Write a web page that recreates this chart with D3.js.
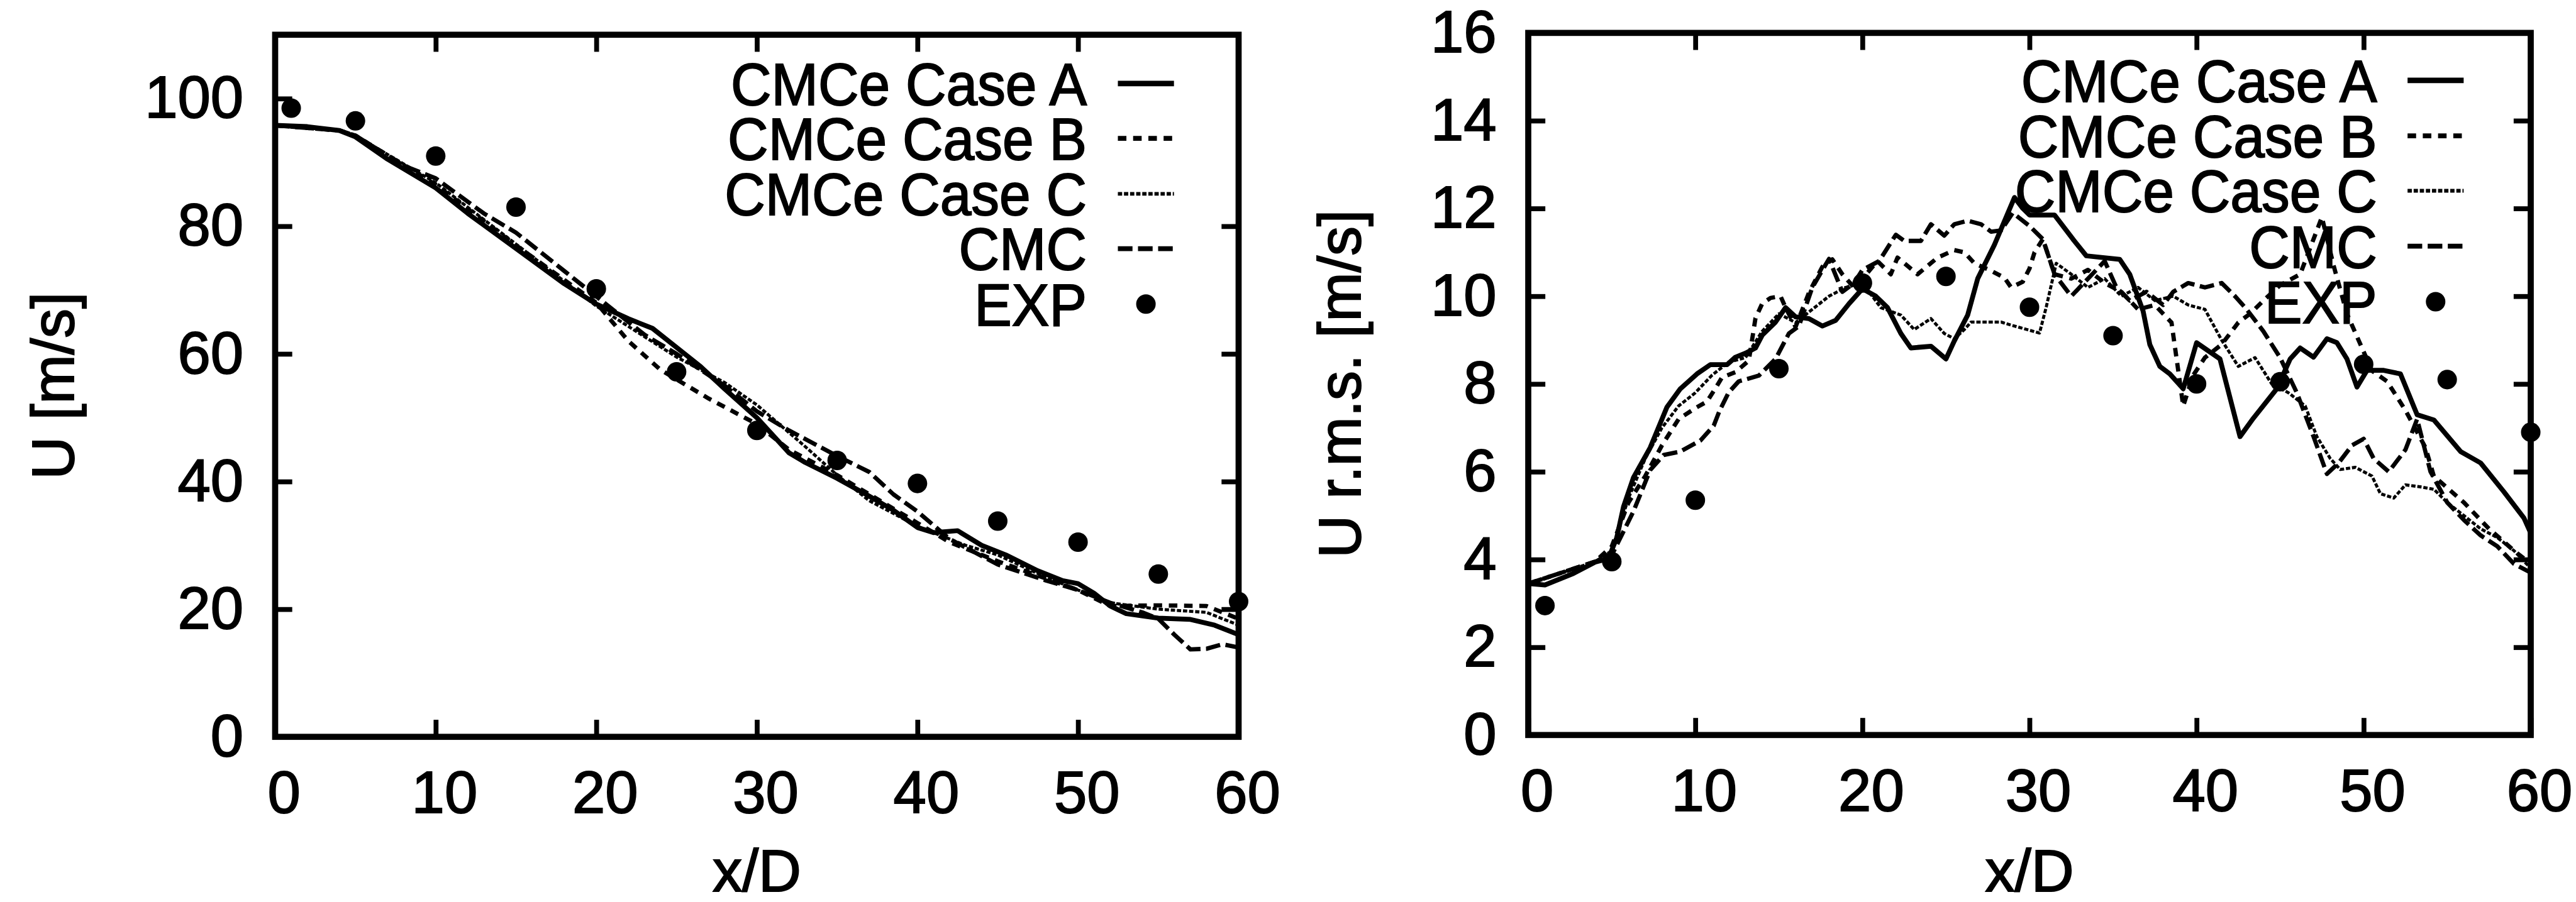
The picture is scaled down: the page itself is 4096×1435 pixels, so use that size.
<!DOCTYPE html>
<html>
<head>
<meta charset="utf-8">
<script src="https://cdn.jsdelivr.net/npm/d3@7"></script>
<style>
  html, body { margin: 0; padding: 0; background: #fff; }
  svg { display: block; }
  text { font-family: "Liberation Sans", Arial, Helvetica, sans-serif; fill: #000; stroke: #000; stroke-width: 2px; }
</style>
</head>
<body>
<svg id="chart" width="4096" height="1435" viewBox="0 0 4224 1480"></svg>
<script>
// ---- shared axes ----
const xTicks = [0, 10, 20, 30, 40, 50, 60];
const uTicks = [0, 20, 40, 60, 80, 100];
const rmsTicks = [0, 2, 4, 6, 8, 10, 12, 14, 16];
const legendNames = ["CMCe Case A", "CMCe Case B", "CMCe Case C", "CMC", "EXP"];

// ---- mean velocity U [m/s] ----
const expX = [1, 5, 10, 15, 20, 25, 30, 35, 40, 45, 50, 55, 60];
const uExp = [98.5, 96.5, 91, 83, 70.2, 57.2, 48, 43.3, 39.7, 33.8, 30.5, 25.5, 21.2];

const uAx = [0, 2, 4, 5, 7, 10, 12, 15, 18, 20, 22, 23.5, 25, 26.5, 28, 30, 32, 33, 35, 37, 38.5, 40, 41, 42.5, 44, 45.5, 47.5, 49, 50, 51, 52, 53, 55, 57, 58.5, 59.5, 60];
const uA  = [95.8, 95.6, 95, 94, 90.5, 86, 82, 76.5, 71, 67.8, 65.5, 64, 61, 58, 54.5, 50, 44.5, 43, 40.5, 37.7, 35.5, 32.8, 32, 32.3, 30, 28.5, 26, 24.5, 24, 22.5, 20.5, 19.3, 18.6, 18.4, 17.5, 16.5, 16];

const uBx = [0, 4, 5, 10, 15, 20, 22, 24, 25, 27, 30, 32, 35, 38, 40, 42, 45, 48, 50, 52, 55, 58, 60];
const uB  = [95.8, 95, 94.2, 86.5, 77, 68, 62, 57.5, 56, 53, 49, 45, 41, 36.5, 33.5, 30.5, 27.5, 24.8, 23, 20.5, 20.6, 20.5, 18.5];

const uCx = [0, 4, 5, 10, 15, 20, 25, 28, 30, 33, 35, 37, 40, 43, 45, 48, 50, 52, 55, 58, 60];
const uC  = [95.8, 95, 94.2, 86.8, 77.2, 67.5, 59.5, 55.5, 52, 45.5, 41, 37, 33, 30, 28.5, 25, 23, 21, 20, 19.5, 17.5];

const uCmcX = [0, 4, 5, 8, 10, 13, 15, 18, 20, 23, 25, 28, 30, 32, 35, 37, 38.5, 40, 42, 45, 48, 50, 52, 54, 55, 56, 57, 58, 59, 60];
const uCmc  = [95.8, 95, 94.2, 89.5, 87.5, 82, 79, 73, 69, 63, 60, 55, 51, 48, 44, 41.5, 38, 35.3, 31, 27, 24.5, 23, 21, 19.5, 18.5, 16, 13.7, 13.8, 14.5, 14];

// ---- fluctuation U r.m.s. [m/s] ----
const rmsExp = [2.95, 3.95, 5.35, 8.35, 10.3, 10.45, 9.75, 9.1, 8.0, 8.05, 8.45, 8.1, 6.9];

const rAx = [0, 1, 2.7, 4, 4.8, 5.3, 5.7, 6.3, 7.3, 8.3, 9.1, 10.1, 10.9, 11.9, 12.4, 13, 13.6, 14, 14.8, 15.4, 16, 16.8, 17.6, 18.4, 19.2, 20, 20.8, 21.5, 22.3, 22.9, 24.1, 25, 25.5, 26.3, 26.9, 27.9, 29.1, 29.6, 30, 31.5, 32.6, 33.4, 35.4, 36, 36.8, 37.2, 37.8, 38.4, 39.2, 40, 41.4, 42.6, 43.4, 44.8, 45.6, 46.2, 47, 47.8, 48.4, 49, 49.6, 50.2, 51.2, 52.2, 53.2, 54.2, 55.8, 57, 58.4, 59.6, 60];
const rA  = [3.45, 3.42, 3.68, 3.94, 4.02, 4.5, 5.2, 5.87, 6.55, 7.47, 7.89, 8.23, 8.44, 8.44, 8.61, 8.7, 8.82, 9.11, 9.41, 9.74, 9.53, 9.49, 9.32, 9.45, 9.83, 10.17, 10.0, 9.74, 9.15, 8.82, 8.86, 8.57, 8.98, 9.57, 10.4, 11.17, 12.25, 12.0, 11.85, 11.85, 11.3, 10.92, 10.84, 10.5, 9.66, 8.9, 8.4, 8.23, 7.89, 8.94, 8.57, 6.8, 7.22, 7.89, 8.57, 8.82, 8.61, 9.03, 8.94, 8.57, 7.93, 8.31, 8.31, 8.23, 7.3, 7.18, 6.46, 6.2, 5.54, 4.94, 4.6];

const rBx = [0, 4, 5, 6, 7, 8, 9, 10, 10.7, 11.2, 11.6, 12.4, 13.2, 13.6, 14, 14.5, 15.1, 15.4, 16, 16.8, 17.6, 18.2, 18.8, 19.5, 20, 20.9, 21.7, 22.1, 23.3, 24.5, 25.5, 26.1, 26.7, 27.7, 28.5, 28.9, 29.6, 30, 30.3, 30.8, 31.5, 32.5, 33.5, 34.5, 35.5, 36.5, 37.5, 38.5, 39.2, 39.8, 40.5, 41.5, 42.5, 43.2, 44, 45, 46.2, 47.5, 48.2, 49, 50.5, 51.4, 52.5, 53.7, 54.2, 56, 57.5, 59, 60];
const rB  = [3.45, 3.95, 4.3, 5.3, 5.9, 6.6, 7.2, 7.45, 7.6, 7.9, 8.15, 8.27, 8.53, 9.5, 9.83, 9.96, 10.0, 9.74, 9.3, 10.08, 10.67, 10.84, 10.5, 10.2, 10.4, 10.8, 10.5, 10.88, 10.5, 10.88, 11.05, 11.0, 10.75, 10.58, 10.42, 10.2, 10.33, 10.63, 11.0, 11.3, 10.5, 10.4, 10.6, 10.3, 10.1, 9.7, 9.8, 9.4, 7.5, 8.2, 8.6, 8.9, 9.4, 9.6, 9.9, 10.25, 10.5, 11.8, 10.7, 9.6, 8.3, 8.06, 7.4, 6.55, 5.9, 5.3, 4.7, 4.2, 3.9];

const rCx = [0, 4, 5, 6, 7, 8, 9, 10, 11, 12, 13, 14, 15, 16, 17, 18, 19, 20, 21.1, 22.3, 23.1, 24.1, 24.9, 25.5, 26.1, 26.5, 28.3, 29, 29.85, 30.6, 31, 31.6, 32.5, 33.5, 34.5, 35.5, 36.5, 37.5, 38.6, 39.5, 40.5, 41.5, 42.5, 43.5, 44.5, 45.5, 46.5, 47.2, 48, 48.6, 49.5, 50.5, 51, 51.8, 52.5, 53.5, 54.2, 55, 56, 57, 58, 59, 60];
const rC  = [3.45, 3.95, 4.2, 5.4, 6.3, 7.0, 7.5, 7.8, 8.2, 8.5, 8.6, 9.2, 9.6, 9.4, 9.7, 10.0, 10.2, 10.3, 9.74, 9.57, 9.24, 9.49, 9.15, 9.03, 9.24, 9.41, 9.41, 9.33, 9.24, 9.16, 9.75, 10.75, 10.5, 10.2, 10.4, 10.0, 10.2, 9.9, 10.0, 9.8, 9.7, 9.0, 8.4, 8.6, 8.0, 7.8, 7.5, 6.8, 6.3, 6.05, 6.1, 5.9, 5.5, 5.4, 5.7, 5.65, 5.6, 5.3, 5.0, 4.7, 4.5, 4.2, 3.8];

const rCmcX = [0, 4, 5, 6.3, 7.3, 8.1, 9.1, 10.3, 11.1, 11.45, 12, 12.6, 13.8, 14.8, 15.6, 16.2, 17, 18, 18.8, 19.5, 20, 21, 22, 22.5, 23.5, 24.1, 24.9, 25.5, 26.3, 27.1, 27.7, 28.3, 29, 30, 30.8, 31.5, 32.5, 33.5, 34.5, 35.2, 36, 37, 38, 38.6, 39.5, 40.5, 41.5, 42.3, 43, 44, 45, 46, 47, 47.8, 48.5, 49.3, 50, 50.6, 51.5, 52.5, 53.2, 54, 55, 56, 57, 58, 59, 60];
const rCmc  = [3.45, 3.95, 4.1, 5.1, 6.04, 6.38, 6.46, 6.71, 7.05, 7.39, 7.81, 8.06, 8.19, 8.57, 9.15, 9.32, 10.2, 10.85, 10.1, 10.3, 10.6, 10.8, 11.4, 11.26, 11.26, 11.64, 11.38, 11.64, 11.72, 11.64, 11.47, 11.5, 11.9, 11.6, 11.3, 10.5, 10.0, 10.4, 10.8, 10.2, 9.9, 10.1, 9.8, 10.1, 10.3, 10.2, 10.3, 10.0, 9.7, 9.2, 8.6, 7.8, 6.8, 5.95, 6.2, 6.6, 6.75, 6.3, 6.0, 6.5, 7.2, 6.0, 5.3, 4.9, 4.55, 4.3, 3.9, 3.7];

// ---- line styles ----
const styles = [
  { width: 8, dash: null },      // CMCe Case A
  { width: 7, dash: "14,11" },   // CMCe Case B
  { width: 5, dash: "7,3" },     // CMCe Case C
  { width: 7, dash: "24,9" }     // CMC
];

const svg = d3.select("#chart");
svg.append("rect").attr("width", 4224).attr("height", 1480).attr("fill", "#fff").attr("stroke", "none");

const tickFont = 97;
const legendFont = 97;
const legendSqueeze = 0.95;

function panel(opts) {
  const x = d3.scaleLinear().domain([0, 60]).range(opts.xRange);
  const y = d3.scaleLinear().domain(opts.yDomain).range(opts.yRange);
  const g = svg.append("g");

  // legend text first so curves pass over it
  const lg = g.append("g");
  legendNames.forEach((name, i) => {
    const cy = opts.legendY[i];
    lg.append("text")
      .attr("transform", `translate(${opts.legendTextRight},${cy}) scale(${legendSqueeze},1)`)
      .attr("dy", "0.36em")
      .attr("text-anchor", "end")
      .attr("font-size", legendFont)
      .text(name);
    if (i < 4) {
      lg.append("line")
        .attr("x1", opts.legendLine[0]).attr("x2", opts.legendLine[1])
        .attr("y1", cy).attr("y2", cy)
        .attr("stroke", "#000")
        .attr("stroke-width", styles[i].width + 1)
        .attr("stroke-dasharray", styles[i].dash);
    } else {
      lg.append("circle")
        .attr("cx", (opts.legendLine[0] + opts.legendLine[1]) / 2)
        .attr("cy", cy).attr("r", 16).attr("fill", "#000");
    }
  });

  // curves
  const line = d3.line().x(d => x(d[0])).y(d => y(d[1]));
  opts.series.forEach((s, i) => {
    g.append("path")
      .datum(d3.zip(s[0], s[1]))
      .attr("d", line)
      .attr("fill", "none")
      .attr("stroke", "#000")
      .attr("stroke-width", styles[i].width)
      .attr("stroke-linejoin", "round")
      .attr("stroke-dasharray", styles[i].dash);
  });

  // experimental points
  g.selectAll("circle.exp")
    .data(d3.zip(expX, opts.exp))
    .join("circle")
    .attr("class", "exp")
    .attr("cx", d => x(d[0])).attr("cy", d => y(d[1]))
    .attr("r", 16).attr("fill", "#000");

  // axes with inward ticks, mirrored on top and right
  const tick = 28;
  const styleAxis = sel => {
    sel.select(".domain").remove();
    sel.selectAll(".tick line").attr("stroke", "#000").attr("stroke-width", 8);
    sel.selectAll(".tick text").attr("font-size", tickFont).attr("fill", "#000")
      .attr("font-family", "Liberation Sans, Arial, sans-serif");
  };
  const [x0, x1] = opts.xRange;
  const [yb, yt] = opts.yRange;

  g.append("g").attr("transform", `translate(0,${yb})`)
    .call(d3.axisBottom(x).tickValues(xTicks).tickSize(-tick).tickPadding(56).tickFormat(d3.format("d")))
    .call(styleAxis)
    .call(a => a.selectAll(".tick text").attr("dx", 14));
  g.append("g").attr("transform", `translate(0,${yt})`)
    .call(d3.axisTop(x).tickValues(xTicks.slice(1, -1)).tickSize(-tick).tickFormat(""))
    .call(styleAxis);
  g.append("g").attr("transform", `translate(${x0},0)`)
    .call(d3.axisLeft(y).tickValues(opts.yTicks).tickSize(-tick).tickPadding(52).tickFormat(d3.format("d")))
    .call(styleAxis);
  g.append("g").attr("transform", `translate(${x1},0)`)
    .call(d3.axisRight(y).tickValues(opts.yTicks.slice(1, -1)).tickSize(-tick).tickFormat(""))
    .call(styleAxis);

  // frame
  g.append("rect")
    .attr("x", x0).attr("y", yt)
    .attr("width", x1 - x0).attr("height", yb - yt)
    .attr("fill", "none").attr("stroke", "#000").attr("stroke-width", 10);

  // axis titles
  g.append("text")
    .attr("x", (x0 + x1) / 2).attr("y", 1462)
    .attr("text-anchor", "middle").attr("font-size", tickFont)
    .text("x/D");
  g.append("text")
    .attr("transform", `translate(${opts.yTitleX},${(yb + yt) / 2}) rotate(-90)`)
    .attr("text-anchor", "middle").attr("dy", "0.36em").attr("font-size", tickFont)
    .text(opts.yTitle);
}

panel({
  xRange: [451, 2031],
  yDomain: [0, 110],
  yRange: [1209, 57],
  yTicks: uTicks,
  exp: uExp,
  series: [[uAx, uA], [uBx, uB], [uCx, uC], [uCmcX, uCmc]],
  legendTextRight: 1782,
  legendLine: [1833, 1925],
  legendY: [137, 227, 318, 408, 499],
  yTitle: "U [m/s]",
  yTitleX: 86
});

panel({
  xRange: [2506, 4150],
  yDomain: [0, 16],
  yRange: [1206, 54],
  yTicks: rmsTicks,
  exp: rmsExp,
  series: [[rAx, rA], [rBx, rB], [rCx, rC], [rCmcX, rCmc]],
  legendTextRight: 3898,
  legendLine: [3948, 4040],
  legendY: [132, 223, 313, 404, 495],
  yTitle: "U r.m.s. [m/s]",
  yTitleX: 2196
});
</script>
</body>
</html>
